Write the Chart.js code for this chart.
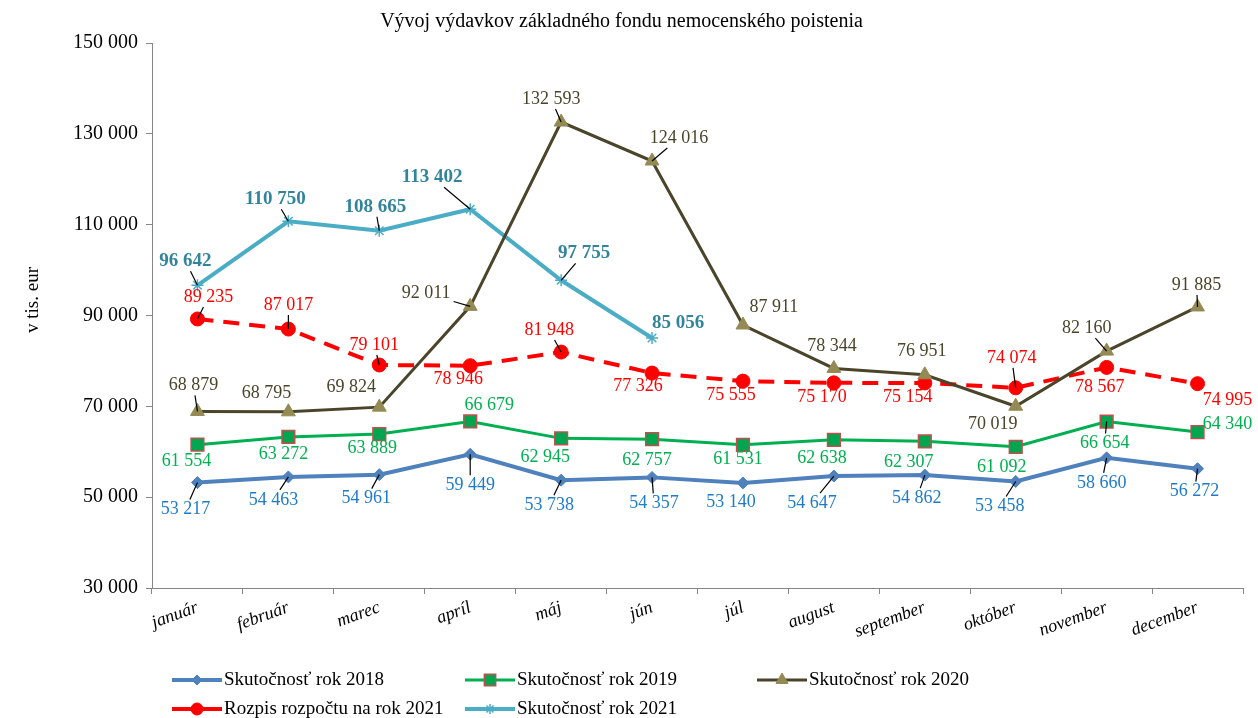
<!DOCTYPE html>
<html lang="sk">
<head>
<meta charset="utf-8">
<title>Vývoj výdavkov základného fondu nemocenského poistenia</title>
<script src="https://cdn.jsdelivr.net/npm/chart.js@4.4.1/dist/chart.umd.min.js"></script>
<style>
    html, body { margin: 0; padding: 0; background: #fff; }
    #wrap { width: 1258px; height: 718px; }
</style>
</head>
<body>
<div id="wrap"><canvas id="chart" width="1258" height="718"></canvas></div>
<script>
// Data (v tis. eur)
const months = ['január', 'február', 'marec', 'apríl', 'máj', 'jún', 'júl', 'august', 'september', 'október', 'november', 'december'];
const skut2018 = [53217, 54463, 54961, 59449, 53738, 54357, 53140, 54647, 54862, 53458, 58660, 56272];
const skut2019 = [61554, 63272, 63889, 66679, 62945, 62757, 61531, 62638, 62307, 61092, 66654, 64340];
const skut2020 = [68879, 68795, 69824, 92011, 132593, 124016, 87911, 78344, 76951, 70019, 82160, 91885];
const rozpis2021 = [89235, 87017, 79101, 78946, 81948, 77326, 75555, 75170, 75154, 74074, 78567, 74995];
const skut2021 = [96642, 110750, 108665, 113402, 97755, 85056, null, null, null, null, null, null];
const yMin = 30000, yMax = 150000, yStep = 20000;

// Label placement (pixel offsets from the point) and leader lines
const off2018 = [[-12,27],[-15,23],[-13,24],[0,31],[-12,25],[2,26],[-12,19],[-22,27],[-8,23],[-16,25],[-5,25],[-3,23]];
const lead2018 = [1,1,1,1,1,1,0,1,1,1,1,1];
const off2019 = [[-11,17],[-5,17],[-7,14],[19,-16],[-16,19],[-5,21],[-5,14],[-12,18],[-16,21],[-14,20],[-2,22],[30,-8]];
const lead2019 = [0,0,0,0,0,0,0,0,0,0,1,0];
const off2020 = [[-4,-26],[-22,-19],[-28,-20],[-44,-13],[-10,-23],[27,-23],[31,-18],[-2,-22],[-3,-23],[-23,18],[-20,-23],[-1,-22]];
const lead2020 = [1,0,0,1,1,1,0,0,0,0,1,1];
const offRozpis = [[11,-22],[0,-24],[-5,-20],[-12,14],[-12,-22],[-14,13],[-12,14],[-12,14],[-17,14],[-4,-30],[-7,20],[30,17]];
const leadRozpis = [1,1,1,0,1,0,0,0,0,1,0,0];
const off2021 = [[-12,-24],[-13,-22],[-4,-24],[-38,-32],[23,-27],[26,-15]];
const lead2021 = [1,1,1,1,1,0];

const FONT = 'Liberation Serif, Times New Roman, serif';
const fmt = v => String(v).replace(/\B(?=(\d{3})+(?!\d))/g, ' ');

// data labels with leader lines
const pointLabels = {
    id: 'pointLabels',
    afterDatasetsDraw(chart) {
        const ctx = chart.ctx;
        chart.data.datasets.forEach((ds, i) => {
            const meta = chart.getDatasetMeta(i);
            const cfg = ds.labelCfg;
            ctx.save();
            ctx.font = cfg.font;
            ctx.textAlign = 'center';
            ctx.textBaseline = 'middle';
            meta.data.forEach((pt, j) => {
                const v = ds.data[j];
                if (v == null) return;
                const [dx, dy] = cfg.offsets[j];
                const lx = pt.x + dx, ly = pt.y + dy;
                const text = fmt(v);
                if (cfg.leaders[j]) {
                    const w = ctx.measureText(text).width / 2 + 3;
                    const h = 10;
                    const tb = Math.min(dx ? w / Math.abs(dx) : 99, dy ? h / Math.abs(dy) : 99);
                    if (tb < 1) {
                        ctx.beginPath();
                        ctx.strokeStyle = '#000';
                        ctx.lineWidth = 1.2;
                        ctx.moveTo(pt.x, pt.y);
                        ctx.lineTo(lx - dx * tb, ly - dy * tb);
                        ctx.stroke();
                    }
                }
                ctx.fillStyle = cfg.color;
                ctx.fillText(text, lx, ly);
            });
            ctx.restore();
        });
    }
};

// legend laid out in a grid like the original
const legendPos = [[172, 680], [465, 680], [757, 680], [172, 709], [465, 709]];
const gridLegend = {
    id: 'gridLegend',
    afterDraw(chart) {
        const ctx = chart.ctx;
        chart.data.datasets.forEach((ds, i) => {
            const [x, y] = legendPos[i];
            ctx.save();
            ctx.strokeStyle = ds.borderColor;
            ctx.lineWidth = ds.borderWidth;
            ctx.beginPath();
            ctx.moveTo(x, y);
            ctx.lineTo(x + 50, y);
            ctx.stroke();
            ctx.fillStyle = ds.pointBackgroundColor;
            ctx.strokeStyle = ds.pointBorderColor;
            ctx.lineWidth = ds.pointBorderWidth;
            Chart.helpers.drawPoint(ctx, {
                pointStyle: ds.pointStyle,
                radius: ds.pointRadius - 1,
                borderWidth: ds.pointBorderWidth,
                rotation: 0
            }, x + 25, y);
            ctx.fillStyle = '#000';
            ctx.font = '19px ' + FONT;
            ctx.textAlign = 'left';
            ctx.textBaseline = 'middle';
            ctx.fillText(ds.label, x + 52, y);
            ctx.restore();
        });
    }
};

// y axis caption placed like the original
const yCaption = {
    id: 'yCaption',
    afterDraw(chart) {
        const ctx = chart.ctx;
        ctx.save();
        ctx.translate(33, 300);
        ctx.rotate(-Math.PI / 2);
        ctx.fillStyle = '#000';
        ctx.font = '19px ' + FONT;
        ctx.textAlign = 'center';
        ctx.textBaseline = 'middle';
        ctx.fillText('v tis. eur', 0, 0);
        ctx.restore();
    }
};

new Chart(document.getElementById('chart'), {
    type: 'line',
    data: {
        labels: months,
        datasets: [
            {
                label: 'Skutočnosť rok 2018',
                data: skut2018,
                borderColor: '#4F81BD',
                borderWidth: 4,
                pointStyle: 'rectRot',
                pointRadius: 6,
                pointBackgroundColor: '#4F81BD',
                pointBorderColor: '#4F81BD',
                pointBorderWidth: 1,
                labelCfg: { offsets: off2018, leaders: lead2018, color: '#1F7BC9', font: '18px ' + FONT }
            },
            {
                label: 'Skutočnosť rok 2019',
                data: skut2019,
                borderColor: '#00B050',
                borderWidth: 3,
                pointStyle: 'rect',
                pointRadius: 9,
                pointBackgroundColor: '#00A550',
                pointBorderColor: '#C0504D',
                pointBorderWidth: 1.5,
                labelCfg: { offsets: off2019, leaders: lead2019, color: '#00B050', font: '18px ' + FONT }
            },
            {
                label: 'Skutočnosť rok 2020',
                data: skut2020,
                borderColor: '#4A452A',
                borderWidth: 3,
                pointStyle: 'triangle',
                pointRadius: 8,
                pointBackgroundColor: '#948A54',
                pointBorderColor: '#948A54',
                pointBorderWidth: 1,
                labelCfg: { offsets: off2020, leaders: lead2020, color: '#4A452A', font: '18px ' + FONT }
            },
            {
                label: 'Rozpis rozpočtu na rok 2021',
                data: rozpis2021,
                borderColor: '#FF0000',
                borderWidth: 4,
                borderDash: [16, 10],
                pointStyle: 'circle',
                pointRadius: 7,
                pointBackgroundColor: '#FF0000',
                pointBorderColor: '#FF0000',
                pointBorderWidth: 1,
                labelCfg: { offsets: offRozpis, leaders: leadRozpis, color: '#FF0000', font: '18px ' + FONT }
            },
            {
                label: 'Skutočnosť rok 2021',
                data: skut2021,
                borderColor: '#4BACC6',
                borderWidth: 4,
                pointStyle: 'star',
                pointRadius: 6,
                pointBackgroundColor: '#4BACC6',
                pointBorderColor: '#4BACC6',
                pointBorderWidth: 1.5,
                labelCfg: { offsets: off2021, leaders: lead2021, color: '#31849B', font: 'bold 19px ' + FONT }
            }
        ]
    },
    options: {
        responsive: false,
        animation: false,
        devicePixelRatio: 1,
        spanGaps: false,
        layout: { padding: { left: 0, right: 15, top: 0, bottom: 0 } },
        plugins: {
            legend: { display: false },
            tooltip: { enabled: false },
            title: {
                display: true,
                text: 'Vývoj výdavkov základného fondu nemocenského poistenia',
                color: '#000',
                font: { family: FONT, size: 20, weight: 'normal' },
                padding: { top: 10, bottom: 9 }
            }
        },
        scales: {
            x: {
                offset: true,
                grid: { display: true, offset: true, drawOnChartArea: false, tickLength: 6, color: '#868686' },
                border: { color: '#868686', width: 1 },
                ticks: {
                    color: '#000',
                    font: { family: FONT, size: 18, style: 'italic' },
                    maxRotation: 20,
                    minRotation: 20,
                    padding: 3
                },
                afterFit(scale) { scale.height = 130; }
            },
            y: {
                min: yMin,
                max: yMax,
                grid: { display: true, drawOnChartArea: false, tickLength: 6, color: '#868686' },
                border: { color: '#868686', width: 1 },
                ticks: {
                    stepSize: yStep,
                    color: '#000',
                    font: { family: FONT, size: 20 },
                    padding: 8,
                    callback: v => fmt(v)
                },
                afterFit(scale) { scale.width = 152; }
            }
        }
    },
    plugins: [pointLabels, gridLegend, yCaption]
});
</script>
</body>
</html>
